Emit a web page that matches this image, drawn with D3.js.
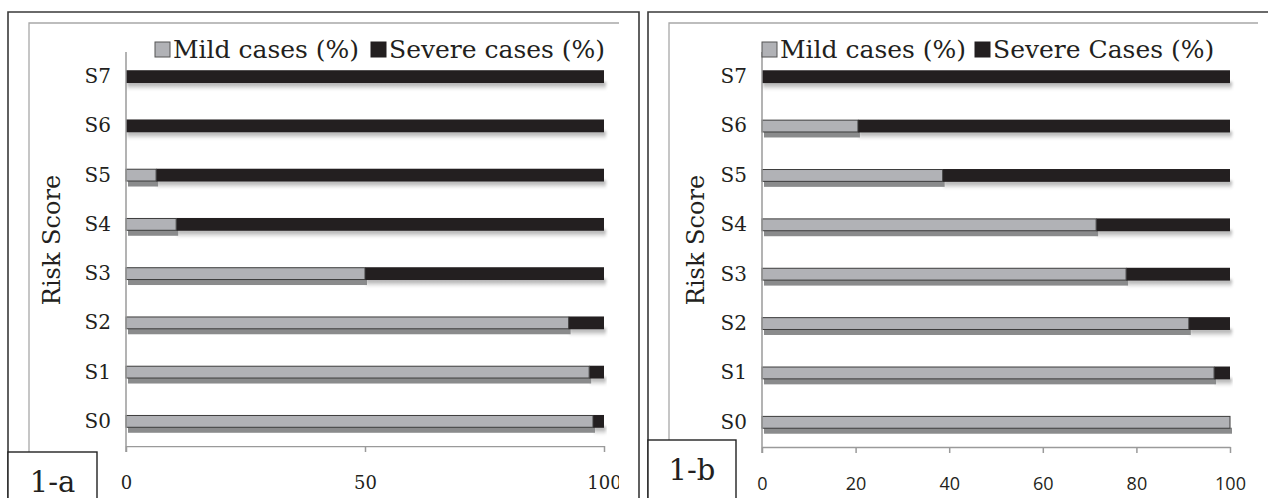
<!DOCTYPE html>
<html><head><meta charset="utf-8">
<script src="https://cdn.jsdelivr.net/npm/d3@7"></script>
<style>html,body{margin:0;padding:0;background:#fff;overflow:hidden}</style>
</head><body>
<svg id="c" width="1268" height="498"></svg>
<script>
const categories = ["S0","S1","S2","S3","S4","S5","S6","S7"];
const mildA = [97.7, 96.9, 92.6, 50, 10.5, 6.3, 0, 0];
const severeA = mildA.map(v => 100 - v);
const mildB = [100, 96.6, 91.2, 77.8, 71.4, 38.6, 20.5, 0];
const severeB = mildB.map(v => 100 - v);
const ticksA = [0, 50, 100];
const ticksB = [0, 20, 40, 60, 80, 100];
const legendA = ["Mild cases (%)", "Severe cases (%)"];
const legendB = ["Mild cases (%)", "Severe Cases (%)"];
const yTitle = "Risk Score";
const panelLabels = ["1-a", "1-b"];

const svg = d3.select("#c");
const defs = svg.append("defs");
defs.append("filter").attr("id","blurS").attr("x","-5%").attr("y","-100%").attr("width","110%").attr("height","300%")
  .append("feGaussianBlur").attr("stdDeviation","1.6 1.8");
defs.append("filter").attr("id","blurM").attr("x","-5%").attr("y","-100%").attr("width","110%").attr("height","300%")
  .append("feGaussianBlur").attr("stdDeviation","0.7");
const grad = defs.append("linearGradient").attr("id","shg").attr("x1",0).attr("y1",0).attr("x2",0).attr("y2",1);
grad.append("stop").attr("offset","0%").attr("stop-color","#9a9a9a");
grad.append("stop").attr("offset","100%").attr("stop-color","#ffffff");

const serif = "DejaVu Serif";
const ink = "#231f20";

function panel(cfg) {
  const g = svg.append("g");
  g.append("path").attr("d", `M${cfg.ox},505 V${12} H${cfg.oxr}` + (cfg.oxr < 1268 ? ` V505` : ""))
    .attr("fill","none").attr("stroke","#3a3a3a").attr("stroke-width",1.6);
  g.append("path").attr("d", `M${cfg.ix},505 V23 H${cfg.ixr}`)
    .attr("fill","none").attr("stroke","#a8a8a8").attr("stroke-width",1.3);

  const x = d3.scaleLinear().domain([0,100]).range([cfg.x0, cfg.x1]);
  const y = d3.scaleBand().domain(categories.slice().reverse()).range([52, cfg.yb]).paddingInner(0.74).paddingOuter(0.37);
  const bh = y.bandwidth();

  const rows = categories.map((c,i) => ({c, m: cfg.mild[i], s: cfg.severe[i]}));

  g.append("g").selectAll("rect").data(rows.filter(d => d.s > 0)).join("rect")
    .attr("x", d => x(d.m) + 1).attr("y", d => y(d.c) + bh - 1)
    .attr("width", d => Math.max(0, x(100) - x(d.m) + 1)).attr("height", 8)
    .attr("fill","url(#shg)").attr("filter","url(#blurS)");
  g.append("g").selectAll("rect").data(rows.filter(d => d.m > 0)).join("rect")
    .attr("x", d => x(0) + 2).attr("y", d => y(d.c) + bh - 1)
    .attr("width", d => x(d.m) - x(0)).attr("height", 6)
    .attr("fill","#8a8b8c").attr("filter","url(#blurM)");

  g.append("g").selectAll("rect").data(rows.filter(d => d.s > 0)).join("rect")
    .attr("x", d => x(d.m)).attr("y", d => y(d.c))
    .attr("width", d => x(100) - x(d.m)).attr("height", bh)
    .attr("fill", ink);
  g.append("g").selectAll("rect").data(rows.filter(d => d.m > 0)).join("rect")
    .attr("x", d => x(0)).attr("y", d => y(d.c) + 0.5)
    .attr("width", d => x(d.m) - x(0)).attr("height", bh - 1)
    .attr("fill","#b1b2b6").attr("stroke","#3c3c3c").attr("stroke-width",1);

  const ya = g.append("g").attr("transform",`translate(${cfg.x0},0)`)
    .call(d3.axisLeft(y).tickSize(0).tickPadding(15));
  ya.select(".domain").remove();
  ya.selectAll("text").attr("font-family", serif).attr("font-size", 20).attr("fill", ink);
  g.append("line").attr("x1",cfg.x0).attr("x2",cfg.x0).attr("y1",52).attr("y2",cfg.yb+6)
    .attr("stroke","#9a9a9a").attr("stroke-width",1.5);

  const xa = g.append("g").attr("transform",`translate(0,${cfg.yb})`)
    .call(d3.axisBottom(x).tickValues(cfg.ticks).tickSize(6).tickSizeOuter(0).tickPadding(cfg.tickPad));
  xa.select(".domain").attr("stroke","#9a9a9a").attr("stroke-width",1.5);
  xa.selectAll(".tick line").attr("stroke","#9a9a9a").attr("stroke-width",1.5);
  xa.selectAll("text").attr("font-family", cfg.tickFont).attr("font-size", cfg.tickSize).attr("fill", ink);
  if (cfg.clip) {
    const cid = "clip" + cfg.ix;
    defs.append("clipPath").attr("id", cid).append("rect").attr("x", cfg.ix).attr("y", 0).attr("width", cfg.ixr - cfg.ix).attr("height", 498);
    xa.attr("clip-path", `url(#${cid})`);
  }

  g.append("text").attr("transform", `translate(${cfg.titleX},240) rotate(-90)`)
    .attr("text-anchor","middle").attr("font-family", serif).attr("font-size", 24).attr("fill", ink)
    .text(yTitle);

  const lg = g.append("g");
  cfg.legend.forEach((t, i) => {
    const lx = cfg.legX[i];
    lg.append("rect").attr("x", lx).attr("y", 42).attr("width", 15).attr("height", 15)
      .attr("fill", i === 0 ? "#b1b2b6" : ink).attr("stroke", i === 0 ? "#555" : ink).attr("stroke-width", 1);
    lg.append("text").attr("x", lx + 18).attr("y", 58).attr("font-family", serif).attr("font-size", 25)
      .attr("fill", ink).text(t);
  });

  g.append("rect").attr("x", cfg.ox).attr("y", cfg.boxY).attr("width", cfg.boxW).attr("height", 70)
    .attr("fill","#fff").attr("stroke","#222").attr("stroke-width",1.4);
  g.append("text").attr("x", cfg.ox + cfg.boxW/2).attr("y", cfg.boxY + cfg.labDy).attr("text-anchor","middle")
    .attr("font-family", serif).attr("font-size", 29).attr("fill", ink).text(cfg.label);
}

panel({ox: 8, oxr: 639, ix: 29, ixr: 619, x0: 126, x1: 604, yb: 446, mild: mildA, severe: severeA,
  ticks: ticksA, tickFont: serif, tickSize: 18, tickPad: 24, clip: true, titleX: 60,
  legend: legendA, legX: [155, 371], boxY: 452, boxW: 89, labDy: 40, label: panelLabels[0]});
panel({ox: 648, oxr: 1300, ix: 669, ixr: 1258, x0: 762, x1: 1230, yb: 447, mild: mildB, severe: severeB,
  ticks: ticksB, tickFont: "Open Sans", tickSize: 18, tickPad: 24, clip: false, titleX: 704,
  legend: legendB, legX: [762, 975], boxY: 440, boxW: 88, labDy: 40, label: panelLabels[1]});
</script>
</body></html>
